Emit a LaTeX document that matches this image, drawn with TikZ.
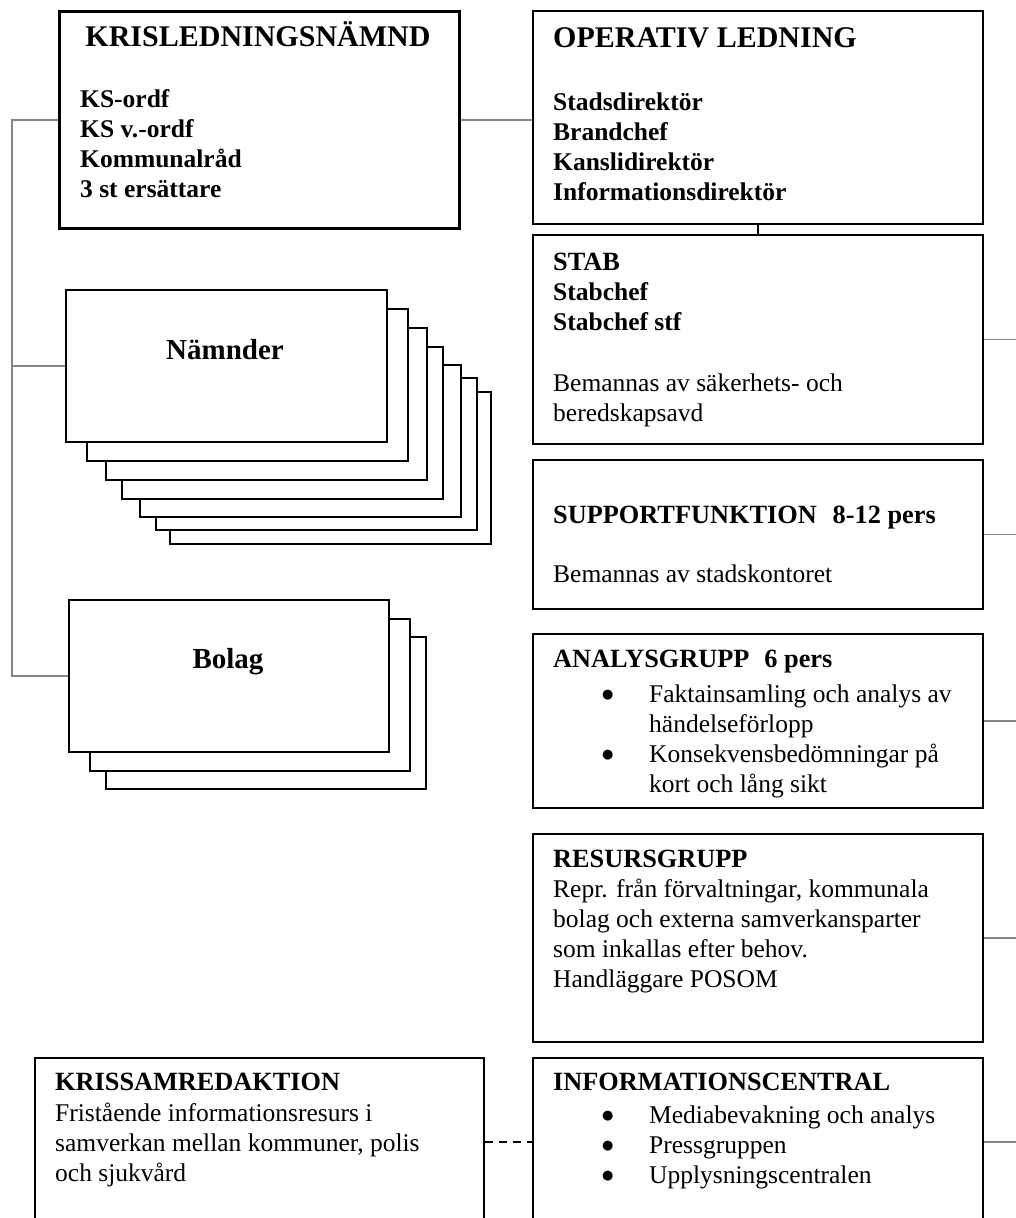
\documentclass[tikz,border=0pt]{standalone}
\usepackage{fontspec}
\setmainfont{Liberation Serif}
\newfontfamily\symfont{DejaVu Sans}
\newcommand\txtlines[1]{\begin{tabular}[t]{@{}l@{}}#1\end{tabular}}
\newcommand\bul{\makebox[47pt][l]{\raisebox{4pt}{\symfont\fontsize{13}{30}\selectfont ●}}}
\newcommand\nobul{\makebox[47pt][l]{}}
\tikzset{
  box/.style={draw, line width=2pt, fill=white, rectangle, inner sep=0pt, anchor=north west},
  conn/.style={draw=black!48, line width=1.6pt},
  link/.style={draw=black, line width=2pt},
  dashlink/.style={draw=black, line width=2pt, dash pattern=on 8pt off 6pt},
  body/.style={inner sep=0pt, anchor=base west, font=\fontsize{25.5}{30}\selectfont},
  bodyb/.style={body, font=\fontsize{25.5}{30}\selectfont\bfseries},
  head/.style={body, font=\fontsize{26.3}{30}\selectfont\bfseries},
  title/.style={inner sep=0pt, font=\fontsize{30}{34}\selectfont\bfseries},
  stacklabel/.style={inner sep=0pt, anchor=base, font=\fontsize{29}{34}\selectfont\bfseries}
}
\begin{document}
\begin{tikzpicture}[x=1pt, y=-1pt]
\fill[white] (0,0) rectangle (1016,1218);
\useasboundingbox (0,0) rectangle (1016,1218);
\clip (0,0) rectangle (1016,1218);

% left column: crisis board and the stacked boards / companies
\node[box, line width=2.7pt, minimum width=400pt, minimum height=217pt] (krisl) at (58,10) {};
\node[title, anchor=base] (krisl-t) at (258,46) {KRISLEDNINGSNÄMND};
\node[bodyb] (krisl-m) at (80,107) {\txtlines{KS-ordf\\KS v.-ordf\\Kommunalråd\\3 st ersättare}};

\foreach \i/\x/\y in {7/169/391, 6/155/377, 5/139/364, 4/121/346, 3/105/327, 2/86/308, 1/65/289}
  \node[box, minimum width=321pt, minimum height=152pt] (nam\i) at (\x,\y) {};
\node[stacklabel] (nam-t) at (225,359) {Nämnder};

\foreach \i/\x/\y in {3/105/636, 2/89/618, 1/68/599}
  \node[box, minimum width=320pt, minimum height=152pt] (bol\i) at (\x,\y) {};
\node[stacklabel] (bol-t) at (228,668) {Bolag};

\node[box, minimum width=449pt, minimum height=168pt] (krissam) at (34,1057) {};
\node[head] (krissam-t) at (55,1090) {KRISSAMREDAKTION};
\node[body] (krissam-m) at (55,1121) {\txtlines{Fristående informationsresurs i\\samverkan mellan kommuner, polis\\och sjukvård}};

% right column
\node[box, minimum width=450pt, minimum height=213pt] (oper) at (532,10) {};
\node[title, anchor=base west] (oper-t) at (553,47) {OPERATIV LEDNING};
\node[bodyb] (oper-m) at (553,110) {\txtlines{Stadsdirektör\\Brandchef\\Kanslidirektör\\Informationsdirektör}};

\node[box, minimum width=450pt, minimum height=209pt] (stab) at (532,234) {};
\node[bodyb] (stab-t) at (553,270) {\txtlines{{\fontsize{26.3}{30}\selectfont STAB}\\Stabchef\\Stabchef stf}};
\node[body] (stab-m) at (553,391) {\txtlines{Bemannas av säkerhets- och\\beredskapsavd}};

\node[box, minimum width=450pt, minimum height=149pt] (supp) at (532,459) {};
\node[head] (supp-t) at (553,523) {SUPPORTFUNKTION\hspace{16pt}8-12 pers};
\node[body] (supp-m) at (553,582) {Bemannas av stadskontoret};

\node[box, minimum width=450pt, minimum height=174pt] (anal) at (532,633) {};
\node[head] (anal-t) at (553,667) {ANALYSGRUPP\hspace{15pt}6 pers};
\begin{scope}
  \clip (532,633) rectangle (982,797);
  \node[body] (anal-m) at (602,702) {\txtlines{\bul Faktainsamling och analys av\\\nobul händelseförlopp\\\bul Konsekvensbedömningar på\\\nobul kort och lång sikt}};
\end{scope}

\node[box, minimum width=450pt, minimum height=208pt] (resu) at (532,833) {};
\node[head] (resu-t) at (553,867) {RESURSGRUPP};
\node[body] (resu-m) at (553,897) {\txtlines{Repr. från förvaltningar, kommunala\\bolag och externa samverkansparter\\som inkallas efter behov.\\Handläggare POSOM}};

\node[box, minimum width=450pt, minimum height=168pt] (info) at (532,1057) {};
\node[head] (info-t) at (553,1090) {INFORMATIONSCENTRAL};
\node[body] (info-m) at (602,1123) {\txtlines{\bul Mediabevakning och analys\\\bul Pressgruppen\\\bul Upplysningscentralen}};

% connectors
\coordinate (bus) at (12,117);
\coordinate (edge) at (1016,0);
\draw[conn] (krisl.west) -- (bus |- krisl.west) -- (bus |- bol1.west) -- (bol1.west);
\draw[conn] (nam1.west) -- (bus |- nam1.west);
\draw[conn] (krisl.east) -- (krisl.east -| oper.west);
\draw[link] (oper.south) -- (stab.north);
\foreach \b in {stab, supp, anal, resu, info}
  \draw[conn] (\b.east) -- (\b.east -| edge);
\draw[dashlink] (krissam.east) -- (info.west);
\end{tikzpicture}
\end{document}
